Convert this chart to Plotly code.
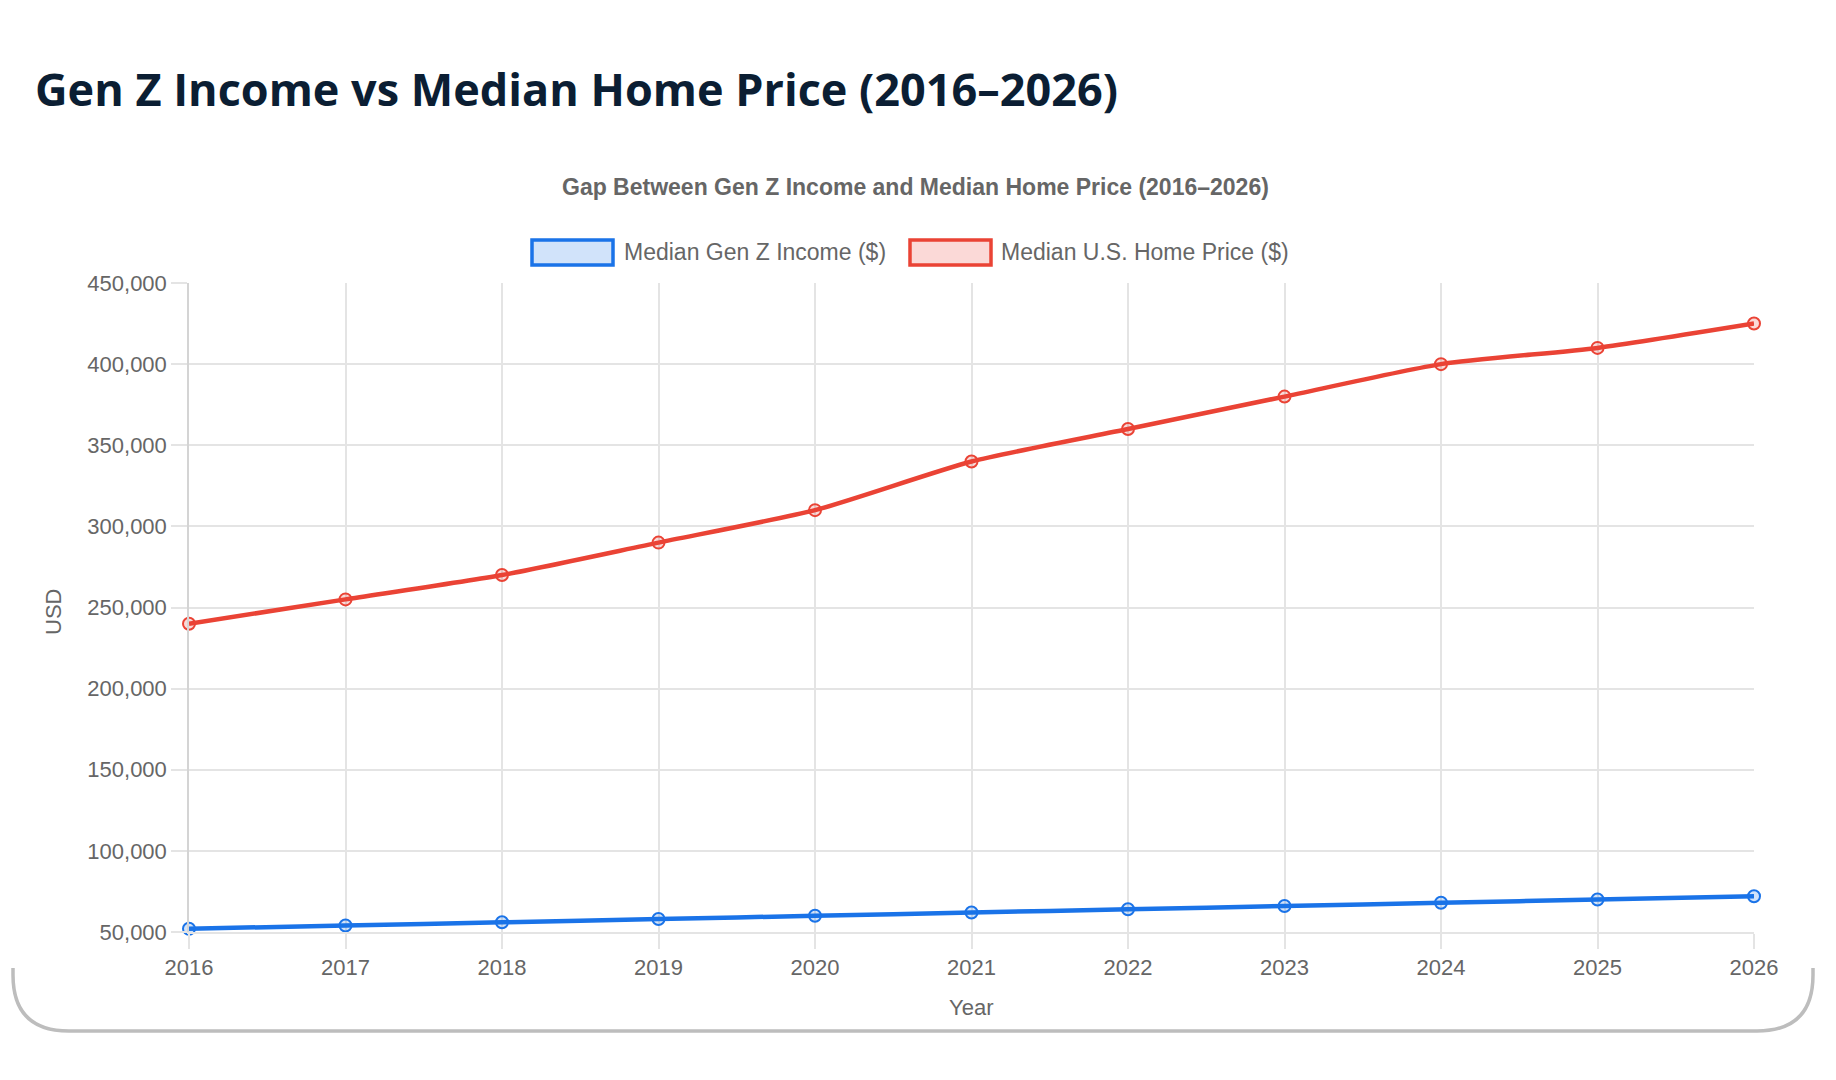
import plotly.graph_objects as go

years = [2016, 2017, 2018, 2019, 2020, 2021, 2022, 2023, 2024, 2025, 2026]
income = [52000, 54000, 56000, 58000, 60000, 62000, 64000, 66000, 68000, 70000, 72000]
home_price = [240000, 255000, 270000, 290000, 310000, 340000, 360000, 380000, 400000, 410000, 425000]

series_names = ["Median Gen Z Income ($)", "Median U.S. Home Price ($)"]
title_text = "Gen Z Income vs Median Home Price (2016–2026)"
subtitle_text = "Gap Between Gen Z Income and Median Home Price (2016–2026)"

W, H = 1836, 1080
L, R, T, B = 189, 1754, 283, 932

BLUE = "#1a73e8"
RED = "#ea4335"
BLUE_FILL = "rgba(26,115,232,0.2)"
RED_FILL = "rgba(234,67,53,0.2)"
FONT = "Arial, 'Liberation Sans', sans-serif"
GRID = "#e4e4e4"


def px(x):
    return (x - L) / (R - L)


def py(y):
    return (B - y) / (B - T)


fig = go.Figure()
fig.add_trace(go.Scatter(
    x=years, y=income, mode="lines+markers", name=series_names[0],
    line=dict(color=BLUE, width=4.5, shape="spline", smoothing=0.6),
    marker=dict(size=12, color=BLUE_FILL, line=dict(color=BLUE, width=2)),
    cliponaxis=False, showlegend=False,
))
fig.add_trace(go.Scatter(
    x=years, y=home_price, mode="lines+markers", name=series_names[1],
    line=dict(color=RED, width=4.5, shape="spline", smoothing=0.6),
    marker=dict(size=12, color=RED_FILL, line=dict(color=RED, width=2)),
    cliponaxis=False, showlegend=False,
))

shapes = []
# legend boxes
for x0, fill, col in [(532, BLUE_FILL, BLUE), (910, RED_FILL, RED)]:
    shapes.append(dict(type="rect", xref="paper", yref="paper",
                       x0=px(x0), x1=px(x0 + 81), y0=py(265), y1=py(240),
                       fillcolor=fill, line=dict(color=col, width=3.5), layer="above"))

# card bottom shadow with rounded corners
cl, cr, cb, rad, ctop = 13, 1813, 1031, 56, 968
def P(x, y):
    return f"{px(x):.5f},{py(y):.5f}"
path = (f"M {P(cl, ctop)} L {P(cl, cb - rad)} Q {P(cl, cb)} {P(cl + rad, cb)} "
        f"L {P(cr - rad, cb)} Q {P(cr, cb)} {P(cr, cb - rad)} L {P(cr, ctop)}")
shapes.append(dict(type="path", xref="paper", yref="paper", path=path,
                   line=dict(color="#bdbdbd", width=3.5)))

annotations = [
    dict(text=f"<b>{title_text}</b>", xref="paper", yref="paper", x=px(33), y=py(88),
         xanchor="left", yanchor="middle", showarrow=False,
         font=dict(family="'Open Sans', sans-serif", size=45, color="#0b1e33")),
    dict(text=f"<b>{subtitle_text}</b>", xref="paper", yref="paper", x=px(915), y=py(187),
         xanchor="center", yanchor="middle", showarrow=False,
         font=dict(family=FONT, size=23, color="#666666")),
    dict(text=series_names[0], xref="paper", yref="paper", x=px(622), y=py(252),
         xanchor="left", yanchor="middle", showarrow=False,
         font=dict(family=FONT, size=23, color="#666666")),
    dict(text=series_names[1], xref="paper", yref="paper", x=px(999), y=py(252),
         xanchor="left", yanchor="middle", showarrow=False,
         font=dict(family=FONT, size=23, color="#666666")),
    dict(text="USD", xref="paper", yref="paper", x=px(53), y=py(612), textangle=-90,
         xanchor="center", yanchor="middle", showarrow=False,
         font=dict(family=FONT, size=22, color="#666666")),
    dict(text="Year", xref="paper", yref="paper", x=px(971), y=py(1007),
         xanchor="center", yanchor="middle", showarrow=False,
         font=dict(family=FONT, size=22, color="#666666")),
]

fig.update_layout(
    width=W, height=H,
    margin=dict(l=L, r=W - R, t=T, b=H - B, autoexpand=False),
    paper_bgcolor="white", plot_bgcolor="white",
    shapes=shapes, annotations=annotations,
    font=dict(family=FONT, color="#666666"),
    xaxis=dict(range=[2016, 2026], dtick=1, tick0=2016, showgrid=True, gridcolor=GRID,
               gridwidth=1.5, zeroline=False, showline=True, linecolor=GRID, linewidth=1.5,
               mirror=False, ticks="outside", ticklen=15, tickcolor=GRID, tickwidth=1.5,
               ticklabelstandoff=0,
               tickfont=dict(size=22, color="#666666", family=FONT)),
    yaxis=dict(range=[50000, 450000], dtick=50000, tick0=50000, tickformat=",",
               showgrid=True, gridcolor=GRID, gridwidth=1.5, zeroline=False,
               showline=True, linecolor="#d4d4d4", linewidth=1.5,
               ticks="outside", ticklen=16, tickcolor=GRID, tickwidth=1.5,
               tickfont=dict(size=22, color="#666666", family=FONT)),
)

fig.write_html("out.html", config={"displayModeBar": False},
               post_script="document.body.style.margin='0';document.body.style.overflow='hidden';")
